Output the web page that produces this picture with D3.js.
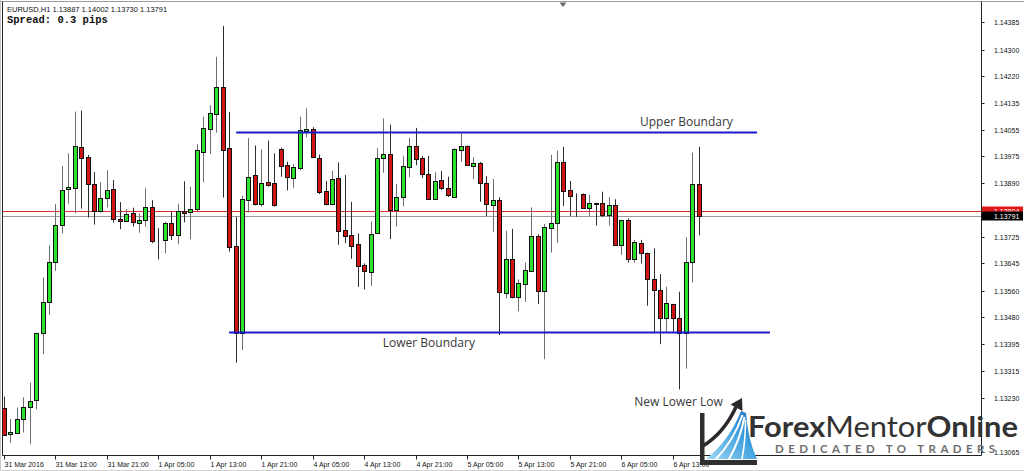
<!DOCTYPE html>
<html>
<head>
<meta charset="utf-8">
<script src="https://cdn.jsdelivr.net/npm/d3@7"></script>
<style>
  html, body { margin: 0; padding: 0; background: #fff; overflow: hidden; }
  svg { display: block; }
</style>
</head>
<body>
<svg id="chart" width="1024" height="471"></svg>
<script>
// ---- EURUSD H1 price data (one entry per hourly bar, 31 Mar 05:00 .. 6 Apr 17:00) ----
const headerLine = "EURUSD,H1  1.13887 1.14002 1.13730 1.13791";
const spreadLine = "Spread: 0.3 pips";

const opens = [
  1.13201,1.13119,1.13124,1.13165,1.13202,1.13224,1.13431,1.13526,1.13647,1.13761,
  1.13871,1.13874,1.14001,1.13970,1.13888,1.13805,1.13844,1.13871,1.13779,1.13773,
  1.13800,1.13768,1.13776,1.13817,1.13716,1.13716,1.13767,1.13730,1.13806,1.13802,
  1.13811,1.13987,1.14056,1.14103,1.14185,1.13997,1.13696,1.13431,1.13838,1.13914,
  1.13825,1.13894,1.13890,1.13994,1.13946,1.13906,1.13938,1.14051,1.14057,1.13967,
  1.13865,1.13827,1.13905,1.13746,1.13731,1.13703,1.13638,1.13617,1.13736,1.13968,
  1.13981,1.13807,1.13848,1.13941,1.14003,1.13967,1.13917,1.13842,1.13899,1.13874,
  1.13848,1.13992,1.14004,1.13943,1.13953,1.13892,1.13822,1.13839,1.13554,1.13656,
  1.13542,1.13581,1.13621,1.13728,1.13560,1.13754,1.13767,1.13955,1.13869,1.13855,
  1.13856,1.13815,1.13828,1.13828,1.13792,1.13822,1.13700,1.13776,1.13656,1.13707,
  1.13675,1.13595,1.13562,1.13476,1.13518,1.13477,1.13431,1.13647,1.13887
];
const highs = [
  1.13235,1.13166,1.13201,1.13233,1.13278,1.13431,1.13601,1.13699,1.13826,1.13943,
  1.13982,1.14110,1.14113,1.13977,1.13924,1.13893,1.13930,1.13900,1.13832,1.13811,
  1.13815,1.13798,1.13875,1.13838,1.13752,1.13772,1.13804,1.13827,1.13896,1.13879,
  1.14010,1.14094,1.14130,1.14278,1.14373,1.14109,1.13787,1.13851,1.14029,1.14006,
  1.13994,1.14021,1.13982,1.13999,1.13956,1.13949,1.14094,1.14120,1.14062,1.13978,
  1.13897,1.13928,1.13954,1.13915,1.13833,1.13736,1.13644,1.13773,1.13998,1.14089,
  1.14070,1.13888,1.13973,1.14030,1.14060,1.13974,1.13974,1.13924,1.13928,1.13910,
  1.13998,1.14043,1.14006,1.13970,1.13955,1.13912,1.13903,1.13847,1.13744,1.13750,
  1.13595,1.13647,1.13816,1.13733,1.13765,1.13977,1.13990,1.14002,1.13897,1.13859,
  1.13859,1.13854,1.13830,1.13864,1.13847,1.13841,1.13776,1.13782,1.13716,1.13716,
  1.13677,1.13690,1.13611,1.13572,1.13520,1.13557,1.13724,1.13984,1.14002
];
const lows = [
  1.13114,1.13093,1.13122,1.13125,1.13089,1.13196,1.13365,1.13486,1.13621,1.13736,
  1.13827,1.13798,1.13812,1.13785,1.13763,1.13800,1.13816,1.13769,1.13749,1.13770,
  1.13757,1.13738,1.13757,1.13706,1.13656,1.13675,1.13716,1.13703,1.13770,1.13718,
  1.13805,1.13893,1.13980,1.14045,1.13846,1.13680,1.13339,1.13378,1.13800,1.13822,
  1.13818,1.13879,1.13818,1.13910,1.13868,1.13876,1.13930,1.14031,1.13971,1.13857,
  1.13822,1.13822,1.13701,1.13706,1.13658,1.13572,1.13564,1.13575,1.13734,1.13922,
  1.13719,1.13757,1.13819,1.13909,1.13945,1.13906,1.13842,1.13840,1.13869,1.13848,
  1.13846,1.13956,1.13945,1.13903,1.13833,1.13789,1.13741,1.13424,1.13537,1.13537,
  1.13497,1.13526,1.13619,1.13519,1.13350,1.13677,1.13707,1.13820,1.13789,1.13787,
  1.13815,1.13789,1.13760,1.13787,1.13760,1.13700,1.13670,1.13646,1.13646,1.13644,
  1.13514,1.13433,1.13396,1.13433,1.13434,1.13257,1.13321,1.13585,1.13730
];
const closes = [
  1.13117,1.13125,1.13166,1.13204,1.13221,1.13431,1.13526,1.13647,1.13761,1.13869,
  1.13878,1.14003,1.13968,1.13887,1.13805,1.13845,1.13870,1.13779,1.13773,1.13796,
  1.13771,1.13777,1.13818,1.13712,1.13715,1.13768,1.13730,1.13806,1.13800,1.13811,
  1.13991,1.14059,1.14105,1.14185,1.13992,1.13695,1.13429,1.13841,1.13909,1.13825,
  1.13892,1.13886,1.13824,1.13944,1.13908,1.13939,1.14053,1.14057,1.13971,1.13864,
  1.13825,1.13902,1.13744,1.13729,1.13696,1.13637,1.13621,1.13735,1.13968,1.13981,
  1.13807,1.13847,1.13944,1.14003,1.13963,1.13919,1.13842,1.13896,1.13874,1.13854,
  1.13994,1.14004,1.13945,1.13951,1.13892,1.13827,1.13839,1.13556,1.13656,1.13542,
  1.13583,1.13624,1.13728,1.13560,1.13755,1.13769,1.13955,1.13867,1.13851,1.13853,
  1.13815,1.13828,1.13827,1.13793,1.13822,1.13700,1.13776,1.13658,1.13710,1.13675,
  1.13595,1.13562,1.13476,1.13522,1.13477,1.13429,1.13647,1.13887,1.13791
];

// time axis labels, one every 8 bars
const timeLabels = [
  "31 Mar 2016","31 Mar 13:00","31 Mar 21:00","1 Apr 05:00","1 Apr 13:00",
  "1 Apr 21:00","4 Apr 05:00","4 Apr 13:00","4 Apr 21:00","5 Apr 05:00",
  "5 Apr 13:00","5 Apr 21:00","6 Apr 05:00","6 Apr 13:00"
];
const timeLabelStep = 8;

// price scale labels
const priceTicks = [
  1.14385,1.14300,1.14220,1.14135,1.14055,1.13975,1.13890,1.13810,1.13725,
  1.13645,1.13560,1.13480,1.13395,1.13315,1.13230,1.13065
];

const bidPrice = 1.13791;
const markPrice = 1.13804;

// hand-drawn range boundaries (bar index span)
const boundaryNames = ["Upper Boundary", "Lower Boundary"];
const boundaryPrices = [1.14048, 1.13434];
const boundaryFrom = [36.1, 35.0];
const boundaryTo = [117.1, 119.1];

// ---- layout ----
const W = 1024, H = 471;
const plot = { left: 2.5, right: 981.5, top: 1.5, bottom: 455.5 };

const svg = d3.select("#chart");
const n = closes.length;

const x = d3.scaleLinear().domain([0, n - 1]).range([4, 4 + 6.431 * (n - 1)]);
const y = d3.scaleLinear().domain([1.13065, 1.14385]).range([452, 22]);

const bars = d3.range(n).map(i => ({
  i, o: opens[i], h: highs[i], l: lows[i], c: closes[i]
}));

svg.append("rect").attr("width", W).attr("height", H).attr("fill", "#fff");

svg.append("defs").append("clipPath").attr("id", "plotClip")
  .append("rect")
  .attr("x", plot.left + 0.5).attr("y", plot.top + 0.5)
  .attr("width", plot.right - plot.left - 1)
  .attr("height", plot.bottom - plot.top - 1);

const plotG = svg.append("g").attr("clip-path", "url(#plotClip)");

// current-price lines
plotG.append("line")
  .attr("x1", plot.left).attr("x2", plot.right)
  .attr("y1", Math.round(y(markPrice)) + 0.5).attr("y2", Math.round(y(markPrice)) + 0.5)
  .attr("stroke", "#e02a2a").attr("stroke-width", 1);
plotG.append("line")
  .attr("x1", plot.left).attr("x2", plot.right)
  .attr("y1", Math.round(y(bidPrice)) + 0.5).attr("y2", Math.round(y(bidPrice)) + 0.5)
  .attr("stroke", "#9a9a9a").attr("stroke-width", 1);

// candles
const px = i => Math.round(x(i)) + 0.5;
const candleG = plotG.append("g");
candleG.selectAll("line.wick").data(bars).join("line")
  .attr("class", "wick")
  .attr("x1", d => px(d.i)).attr("x2", d => px(d.i))
  .attr("y1", d => y(d.h)).attr("y2", d => y(d.l))
  .attr("stroke", d => d.c >= d.o ? "#6e6e6e" : "#2e2e2e")
  .attr("stroke-width", 1);

candleG.selectAll("rect.body").data(bars).join("rect")
  .attr("class", "body")
  .attr("x", d => px(d.i) - 2)
  .attr("width", 4)
  .attr("y", d => Math.round(y(Math.max(d.o, d.c))) + 0.5)
  .attr("height", d => Math.max(0, Math.round(y(Math.min(d.o, d.c))) - Math.round(y(Math.max(d.o, d.c)))))
  .attr("fill", d => d.c > d.o ? "#2ee02e" : "#d01515")
  .attr("stroke", "#111")
  .attr("stroke-width", 1);

// boundary lines
boundaryPrices.forEach((p, k) => {
  plotG.append("line")
    .attr("x1", x(boundaryFrom[k])).attr("x2", x(boundaryTo[k]))
    .attr("y1", Math.round(y(p)) + 0.5).attr("y2", Math.round(y(p)) + 0.5)
    .attr("stroke", "#1a1acc").attr("stroke-width", 2);
});

// annotations
const noteFont = "'Open Sans', 'Noto Sans', sans-serif";
svg.append("text")
  .attr("x", x(98.9)).attr("y", y(boundaryPrices[0]) - 6)
  .attr("font-family", noteFont).attr("font-size", 12).attr("fill", "#383838")
  .text(boundaryNames[0]);
svg.append("text")
  .attr("x", x(58.9)).attr("y", y(boundaryPrices[1]) + 15)
  .attr("font-family", noteFont).attr("font-size", 12).attr("fill", "#383838")
  .text(boundaryNames[1]);
svg.append("text")
  .attr("x", x(98)).attr("y", y(lows[105]) + 17)
  .attr("font-family", noteFont).attr("font-size", 12).attr("fill", "#383838")
  .text("New Lower Low");

// frame
const frame = svg.append("g").attr("stroke-width", 1).attr("fill", "none");
frame.append("line").attr("x1", 0).attr("x2", W).attr("y1", plot.top).attr("y2", plot.top).attr("stroke", "#9a9a9a");
frame.append("line").attr("x1", 0.5).attr("x2", 0.5).attr("y1", 0).attr("y2", H).attr("stroke", "#c8c8c8");
frame.append("line").attr("x1", plot.left).attr("x2", plot.left).attr("y1", plot.top).attr("y2", plot.bottom).attr("stroke", "#222");
frame.append("line").attr("x1", plot.right).attr("x2", plot.right).attr("y1", plot.top).attr("y2", plot.bottom).attr("stroke", "#222");
frame.append("line").attr("x1", plot.left).attr("x2", plot.right).attr("y1", plot.bottom).attr("y2", plot.bottom).attr("stroke", "#222");
frame.append("line").attr("x1", 0).attr("x2", W).attr("y1", H - 0.5).attr("y2", H - 0.5).attr("stroke", "#d0d0d0");

// chart-shift marker
svg.append("path").attr("d", "M559.5,2.5 L566.5,2.5 L563,7 Z").attr("fill", "#6a6a6a");

// price axis
const axisFont = "'Liberation Sans', Arial, sans-serif";
const yAxisG = svg.append("g");
priceTicks.forEach(p => {
  const yy = Math.round(y(p)) + 0.5;
  yAxisG.append("line").attr("x1", plot.right).attr("x2", plot.right + 3)
    .attr("y1", yy).attr("y2", yy).attr("stroke", "#222");
  yAxisG.append("text").attr("x", 994).attr("y", yy + 2.5)
    .attr("font-family", axisFont).attr("font-size", 7).attr("fill", "#111")
    .text(p.toFixed(5));
});

// price tags
function priceTag(p, fill) {
  const yy = Math.round(y(p));
  svg.append("rect").attr("x", plot.right + 0.5).attr("y", yy - 4.5)
    .attr("width", W - plot.right - 1.5).attr("height", 9).attr("fill", fill);
  svg.append("text").attr("x", 994).attr("y", yy + 2.5)
    .attr("font-family", axisFont).attr("font-size", 7).attr("fill", "#fff")
    .text(p.toFixed(5));
}
priceTag(markPrice, "#e01818");
priceTag(bidPrice, "#000");

// time axis
const xAxisG = svg.append("g");
timeLabels.forEach((t, k) => {
  const xx = px(k * timeLabelStep);
  xAxisG.append("line").attr("x1", xx).attr("x2", xx)
    .attr("y1", plot.bottom).attr("y2", plot.bottom + 4).attr("stroke", "#222");
  xAxisG.append("text").attr("x", xx).attr("y", 466.5)
    .attr("font-family", axisFont).attr("font-size", 7).attr("fill", "#111")
    .text(t);
});

// header
svg.append("text").attr("x", 7).attr("y", 11.5)
  .attr("font-family", axisFont).attr("font-size", 7.5).attr("fill", "#111")
  .text(headerLine);
svg.append("text").attr("x", 7).attr("y", 23)
  .attr("font-family", "'Liberation Mono', 'DejaVu Sans Mono', monospace")
  .attr("font-size", 10.5).attr("font-weight", "bold").attr("fill", "#111")
  .text(spreadLine);

// brand mark
const logo = svg.append("g");
const grad = svg.select("defs").append("linearGradient").attr("id", "swoosh")
  .attr("x1", "0").attr("y1", "1").attr("x2", "1").attr("y2", "0");
grad.append("stop").attr("offset", "0").attr("stop-color", "#9fd8f4");
grad.append("stop").attr("offset", "0.6").attr("stop-color", "#3a9ede");
grad.append("stop").attr("offset", "1").attr("stop-color", "#1f6fc0");
logo.append("path")
  .attr("d", "M706,459 Q729,441 741,411 L746,413 Q748,440 757,459 Z")
  .attr("fill", "url(#swoosh)");
[["M716,459 Q734,440 742.5,415", 2], ["M729,459 Q740,440 744.5,417", 2], ["M742,459 Q745.5,440 745.5,420", 1.6]]
  .forEach(([d, w]) => logo.append("path").attr("d", d).attr("fill", "none")
    .attr("stroke", "#fff").attr("stroke-width", w));
logo.append("path").attr("d", "M703,446 Q724,433 736,407")
  .attr("fill", "none").attr("stroke", "#2a2a2a").attr("stroke-width", 3.5);
logo.append("path").attr("d", "M742,398 L730.5,404.5 L742.5,411 Z").attr("fill", "#2a2a2a");
logo.append("rect").attr("x", 700).attr("y", 413).attr("width", 4.5).attr("height", 52).attr("fill", "#2f2f2f");
logo.append("rect").attr("x", 700).attr("y", 460).attr("width", 57).attr("height", 5).attr("fill", "#2f2f2f");

const brand = logo.append("text").attr("x", 748).attr("y", 437)
  .attr("font-family", "Lato, 'Open Sans', sans-serif").attr("font-size", 28)
  .attr("fill", "#333").attr("textLength", 270).attr("lengthAdjust", "spacingAndGlyphs");
brand.append("tspan").attr("font-weight", "bold").text("Forex");
brand.append("tspan").attr("font-weight", "normal").text("Mentor");
brand.append("tspan").attr("font-weight", "bold").text("Online");
logo.append("text").attr("x", 775).attr("y", 452.5)
  .attr("font-family", "Lato, 'Open Sans', sans-serif").attr("font-size", 11.5)
  .attr("font-weight", "bold").attr("fill", "#6e6e6e")
  .attr("textLength", 220).attr("lengthAdjust", "spacing")
  .text("DEDICATED TO TRADERS");
</script>
</body>
</html>
